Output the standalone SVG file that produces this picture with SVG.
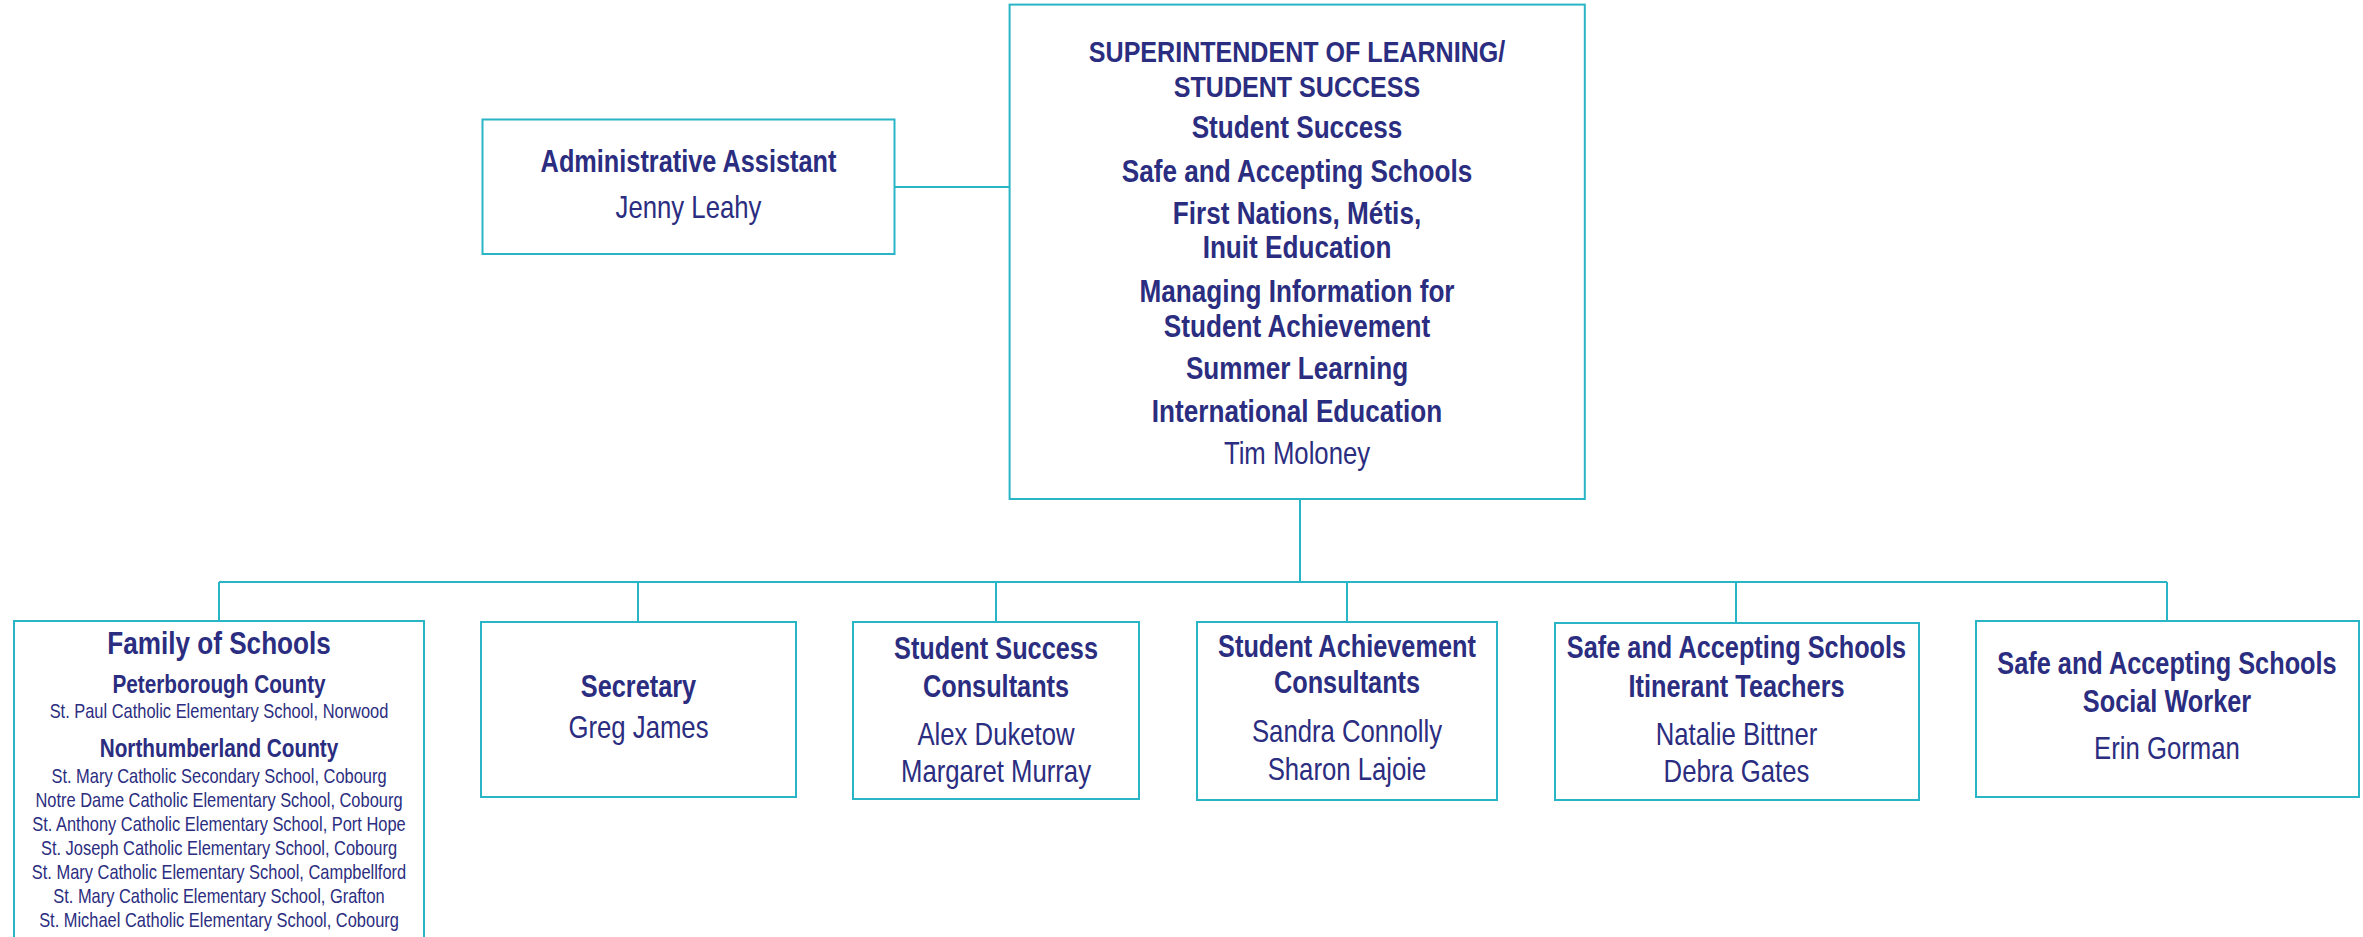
<svg xmlns="http://www.w3.org/2000/svg" width="2363" height="937" viewBox="0 0 2363 937">
<style>
.box{fill:#ffffff;stroke:#29b5c5;stroke-width:2}
.ln{fill:none;stroke:#29b5c5;stroke-width:2}
text{font-family:"Liberation Sans",Arial,sans-serif;fill:#2b2d80;text-anchor:middle}
.b{font-weight:bold;font-size:30.5px}
.bt{font-weight:bold;font-size:31.5px}
.bc{font-weight:bold;font-size:30.2px}
.r{font-size:31px}
.sb{font-weight:bold;font-size:25px}
.sr{font-size:19.8px}
</style>
<rect x="0" y="0" width="2363" height="937" fill="#ffffff"/>
<g id="connectors">
<line class="ln" x1="894.5" y1="187" x2="1009.6" y2="187"/>
<line class="ln" x1="1300" y1="499" x2="1300" y2="582"/>
<line class="ln" x1="219" y1="582" x2="2167" y2="582"/>
<line class="ln" x1="219" y1="582" x2="219" y2="621"/>
<line class="ln" x1="638" y1="582" x2="638" y2="622"/>
<line class="ln" x1="996" y1="582" x2="996" y2="622"/>
<line class="ln" x1="1347" y1="582" x2="1347" y2="622"/>
<line class="ln" x1="1736" y1="582" x2="1736" y2="623"/>
<line class="ln" x1="2167" y1="582" x2="2167" y2="621"/>
</g>
<g id="superintendent">
<rect class="box" x="1009.6" y="4.6" width="575.2" height="494.4"/>
<g transform="translate(1297 0) scale(0.83 1)">
<text class="bc" x="0" y="62">SUPERINTENDENT OF LEARNING/</text>
<text class="bc" x="0" y="97">STUDENT SUCCESS</text>
<text class="bt" x="0" y="138">Student Success</text>
<text class="bt" x="0" y="182">Safe and Accepting Schools</text>
<text class="bt" x="0" y="224">First Nations, Métis,</text>
<text class="bt" x="0" y="258">Inuit Education</text>
<text class="bt" x="0" y="302">Managing Information for</text>
<text class="bt" x="0" y="337">Student Achievement</text>
<text class="bt" x="0" y="379">Summer Learning</text>
<text class="bt" x="0" y="422">International Education</text>
<text class="r" x="0" y="464">Tim Moloney</text>
</g>
</g>
<g id="admin-assistant">
<rect class="box" x="482.5" y="119.5" width="412" height="134.5"/>
<g transform="translate(688.5 0) scale(0.83 1)">
<text class="b" x="0" y="172">Administrative Assistant</text>
<text class="r" x="0" y="218">Jenny Leahy</text>
</g>
</g>
<g id="family-of-schools">
<rect class="box" x="14" y="621" width="410" height="330"/>
<g transform="translate(219 0) scale(0.83 1)">
<text class="b" x="0" y="654" style="font-size:31.5px">Family of Schools</text>
<text class="sb" x="0" y="693">Peterborough County</text>
<text class="sr" x="0" y="718">St. Paul Catholic Elementary School, Norwood</text>
<text class="sb" x="0" y="757">Northumberland County</text>
<text class="sr" x="0" y="783">St. Mary Catholic Secondary School, Cobourg</text>
<text class="sr" x="0" y="807">Notre Dame Catholic Elementary School, Cobourg</text>
<text class="sr" x="0" y="831">St. Anthony Catholic Elementary School, Port Hope</text>
<text class="sr" x="0" y="855">St. Joseph Catholic Elementary School, Cobourg</text>
<text class="sr" x="0" y="879">St. Mary Catholic Elementary School, Campbellford</text>
<text class="sr" x="0" y="903">St. Mary Catholic Elementary School, Grafton</text>
<text class="sr" x="0" y="927">St. Michael Catholic Elementary School, Cobourg</text>
</g>
</g>
<g id="secretary">
<rect class="box" x="481" y="622" width="315" height="175"/>
<g transform="translate(638.5 0) scale(0.83 1)">
<text class="b" x="0" y="697">Secretary</text>
<text class="r" x="0" y="738">Greg James</text>
</g>
</g>
<g id="student-success-consultants">
<rect class="box" x="853" y="622" width="286" height="177"/>
<g transform="translate(996 0) scale(0.83 1)">
<text class="b" x="0" y="659">Student Success</text>
<text class="b" x="0" y="697">Consultants</text>
<text class="r" x="0" y="745">Alex Duketow</text>
<text class="r" x="0" y="782">Margaret Murray</text>
</g>
</g>
<g id="student-achievement-consultants">
<rect class="box" x="1197" y="622" width="300" height="178"/>
<g transform="translate(1347 0) scale(0.83 1)">
<text class="b" x="0" y="657">Student Achievement</text>
<text class="b" x="0" y="693">Consultants</text>
<text class="r" x="0" y="742">Sandra Connolly</text>
<text class="r" x="0" y="780">Sharon Lajoie</text>
</g>
</g>
<g id="itinerant-teachers">
<rect class="box" x="1555" y="623" width="364" height="177"/>
<g transform="translate(1736.5 0) scale(0.83 1)">
<text class="b" x="0" y="658">Safe and Accepting Schools</text>
<text class="b" x="0" y="697">Itinerant Teachers</text>
<text class="r" x="0" y="745">Natalie Bittner</text>
<text class="r" x="0" y="782">Debra Gates</text>
</g>
</g>
<g id="social-worker">
<rect class="box" x="1976" y="621" width="383" height="176"/>
<g transform="translate(2167 0) scale(0.83 1)">
<text class="b" x="0" y="674">Safe and Accepting Schools</text>
<text class="b" x="0" y="712">Social Worker</text>
<text class="r" x="0" y="759">Erin Gorman</text>
</g>
</g>
</svg>
